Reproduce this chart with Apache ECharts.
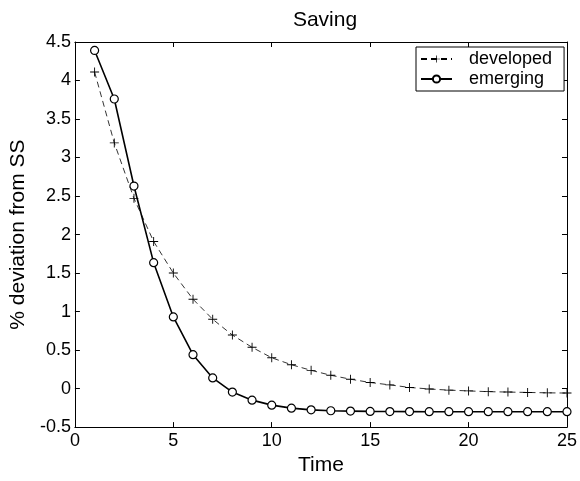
<!DOCTYPE html>
<html>
<head>
<meta charset="utf-8">
<script src="https://cdn.jsdelivr.net/npm/echarts@6/dist/echarts.min.js"></script>
<style>
html, body { margin: 0; padding: 0; background: #fff; }
#chart { width: 580px; height: 481px; }
</style>
</head>
<body>
<div id="chart"></div>
<script>
// Periods after the shock
const periods = [1, 2, 3, 4, 5, 6, 7, 8, 9, 10, 11, 12, 13, 14, 15, 16, 17, 18, 19, 20, 21, 22, 23, 24, 25];

// Saving, % deviation from steady state
const developed = [4.11, 3.19, 2.47, 1.91, 1.50, 1.16, 0.90, 0.695, 0.536, 0.40, 0.31, 0.237, 0.173, 0.122, 0.079,
  0.048, 0.015, -0.005, -0.02, -0.03, -0.04, -0.045, -0.05, -0.055, -0.058];
const emerging = [4.39, 3.76, 2.63, 1.635, 0.93, 0.44, 0.138, -0.045, -0.15, -0.215, -0.254, -0.276, -0.288, -0.292,
  -0.296, -0.298, -0.299, -0.3, -0.3, -0.3, -0.3, -0.3, -0.3, -0.3, -0.3];

// Axis ranges and tick steps
const xRange = [0, 25], xStep = 5;
const yRange = [-0.5, 4.5], yStep = 0.5;

const FONT = 'Liberation Sans, Arial, sans-serif';
const plusSymbol = 'path://M4.5,0H5.5V10H4.5Z M0,4.5H10V5.5H0Z';

const pair = (xs, ys) => xs.map((x, i) => [x, ys[i]]);

const axisCommon = {
  axisLine: { show: true, onZero: false, lineStyle: { color: '#000', width: 1 } },
  axisTick: { show: true, inside: true, length: 5, lineStyle: { color: '#000' } },
  splitLine: { show: false },
};

const chart = echarts.init(document.getElementById('chart'), null, { renderer: 'canvas' });
chart.setOption({
  animation: false,
  backgroundColor: '#fff',
  title: {
    text: 'Saving',
    left: 320, top: 5, textAlign: 'center',
    textStyle: { fontFamily: FONT, fontSize: 21, fontWeight: 'normal', color: '#000' }
  },
  grid: { left: 73, right: 10, top: 42, bottom: 49 },
  legend: {
    left: 416, top: 47,
    orient: 'vertical',
    backgroundColor: '#fff',
    borderColor: '#000', borderWidth: 1, borderRadius: 0,
    padding: [3, 12, 3, 4],
    itemGap: 2,
    itemWidth: 31, itemHeight: 9,
    textStyle: { fontFamily: FONT, fontSize: 18, color: '#000', padding: [0, 0, 0, 12] },
    data: ['developed', 'emerging']
  },
  xAxis: [
    Object.assign({}, axisCommon, {
      type: 'value', min: xRange[0], max: xRange[1], interval: xStep,
      name: 'Time', nameLocation: 'middle', nameGap: 21,
      nameTextStyle: { fontFamily: FONT, fontSize: 21, color: '#000' },
      axisLabel: { fontFamily: FONT, fontSize: 18, color: '#000', margin: 5 },
    }),
    Object.assign({}, axisCommon, {
      type: 'value', min: xRange[0], max: xRange[1], interval: xStep, position: 'top',
      axisLabel: { show: false }
    })
  ],
  yAxis: [
    Object.assign({}, axisCommon, {
      type: 'value', min: yRange[0], max: yRange[1], interval: yStep,
      name: '% deviation from SS', nameLocation: 'middle', nameGap: 40,
      nameTextStyle: { fontFamily: FONT, fontSize: 21, color: '#000' },
      axisLabel: { fontFamily: FONT, fontSize: 18, color: '#000', margin: 4 },
    }),
    Object.assign({}, axisCommon, {
      type: 'value', min: yRange[0], max: yRange[1], interval: yStep, position: 'right',
      axisLabel: { show: false }
    })
  ],
  series: [
    {
      name: 'developed', type: 'line',
      data: pair(periods, developed),
      symbol: plusSymbol, symbolSize: 9, showAllSymbol: true,
      itemStyle: { color: '#000' },
      lineStyle: { color: '#000', width: 0.8, type: [6, 4] },
      z: 3
    },
    {
      name: 'emerging', type: 'line',
      data: pair(periods, emerging),
      symbol: 'circle', symbolSize: 8, showAllSymbol: true,
      itemStyle: { color: '#fff', borderColor: '#000', borderWidth: 1.2 },
      lineStyle: { color: '#000', width: 1.6 },
      z: 4
    }
  ]
});
</script>
</body>
</html>
